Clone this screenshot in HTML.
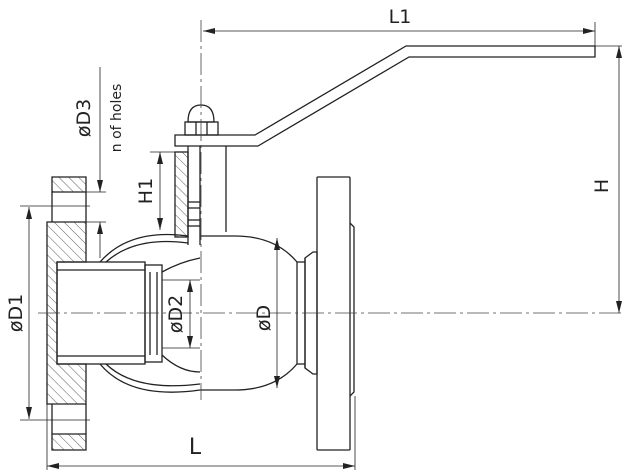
<!DOCTYPE html>
<html><head><meta charset="utf-8"><style>
html,body{margin:0;padding:0;background:#fff;width:626px;height:472px;overflow:hidden}
text{font-family:"DejaVu Sans","Liberation Sans",sans-serif;fill:#222}
</style></head><body>
<svg width="626" height="472" viewBox="0 0 626 472" xmlns="http://www.w3.org/2000/svg">
<defs>
<pattern id="h" width="7" height="7" patternUnits="userSpaceOnUse" patternTransform="rotate(-45)">
<line x1="0" y1="0" x2="0" y2="7" stroke="#333" stroke-width="0.8"/></pattern>
<marker id="a" markerWidth="12" markerHeight="6" refX="12" refY="3" orient="auto-start-reverse" markerUnits="userSpaceOnUse">
<path d="M0,0 L12,3 L0,6 z" fill="#222"/></marker>
</defs>
<g stroke="#222" stroke-width="1.3" fill="none">
<path d="M175,135 L255,135 L406,46 L595,46 L595,57 L409,57 L258,146 L175,146 Z" fill="#fff"/>
<path d="M188,122 Q188,105 201,105 Q214,105 214,122 Z"/>
<rect x="185" y="122" width="33" height="13"/>
<line x1="196" y1="122" x2="196" y2="135"/><line x1="207" y1="122" x2="207" y2="135"/>
<rect x="175" y="152" width="13" height="85" fill="url(#h)"/>
<line x1="188" y1="146" x2="188" y2="245"/>
<line x1="200" y1="146" x2="200" y2="245"/>
<line x1="226" y1="146" x2="226" y2="232"/>
<line x1="188" y1="202" x2="200" y2="202"/><line x1="188" y1="208" x2="200" y2="208"/>
<line x1="188" y1="220" x2="200" y2="220"/><line x1="188" y1="226" x2="200" y2="226"/>
<path d="M52,177 L86,177 L86,192 L52,192 Z" fill="url(#h)"/>
<path d="M47,222 L86,222 L86,262 L57,262 L57,364 L86,364 L86,404 L47,404 Z" fill="url(#h)"/>
<path d="M52,434 L86,434 L86,450 L52,450 Z" fill="url(#h)"/>
<line x1="52" y1="192" x2="52" y2="222"/><line x1="86" y1="192" x2="86" y2="222"/>
<line x1="52" y1="404" x2="52" y2="434"/><line x1="86" y1="404" x2="86" y2="434"/>
<rect x="57" y="262" width="88" height="102"/>
<line x1="57" y1="270" x2="145" y2="270"/><line x1="57" y1="356" x2="145" y2="356"/>
<rect x="145" y="265" width="17" height="97"/>
<line x1="150" y1="272" x2="150" y2="355"/><line x1="157" y1="272" x2="157" y2="355"/>
<path d="M100,262 Q130,228 188,236"/>
<path d="M106,262 Q135,236 188,243"/>
<path d="M100,364 Q130,400 200,390"/>
<path d="M106,364 Q135,392 200,384"/>
<path d="M162,272 Q180,262 200,258"/><path d="M162,355 Q180,372 200,372"/>
<path d="M200,236 L235,236 Q275,236 297,262 L297,364 Q275,390 235,390 L200,390"/>
<line x1="297" y1="262" x2="305" y2="262"/><line x1="297" y1="364" x2="305" y2="364"/>
<path d="M305,258 L313,252 L317,252 L317,374 L313,374 L305,368 Z"/>
<line x1="305" y1="258" x2="305" y2="368"/>
<rect x="317" y="177" width="33" height="273" rx="1"/>
<path d="M350,223 L354,227 L354,392 L350,396"/>
</g>
<g stroke="#444" stroke-width="0.8" fill="none" stroke-dasharray="22,4,3,4">
<line x1="38" y1="313" x2="622" y2="313"/>
<line x1="201" y1="20" x2="201" y2="400"/>
</g>
<g stroke="#222" stroke-width="0.8" fill="none">
<line x1="203" y1="31" x2="595" y2="31" marker-start="url(#a)" marker-end="url(#a)"/>
<line x1="595" y1="22" x2="595" y2="46"/>
<line x1="595" y1="46" x2="622" y2="46"/>
<line x1="619" y1="46" x2="619" y2="313" marker-start="url(#a)" marker-end="url(#a)"/>
<line x1="47" y1="466" x2="355" y2="466" marker-start="url(#a)" marker-end="url(#a)"/>
<line x1="47" y1="404" x2="47" y2="470"/><line x1="355" y1="396" x2="355" y2="470"/>
<line x1="29" y1="207" x2="29" y2="419" marker-start="url(#a)" marker-end="url(#a)"/>
<line x1="20" y1="206" x2="90" y2="206"/><line x1="20" y1="420" x2="90" y2="420"/>
<line x1="100" y1="67" x2="100" y2="192" marker-end="url(#a)"/>
<line x1="100" y1="222" x2="100" y2="258" marker-start="url(#a)"/>
<line x1="86" y1="192" x2="106" y2="192"/><line x1="86" y1="222" x2="106" y2="222"/>
<line x1="160" y1="152" x2="160" y2="230" marker-start="url(#a)" marker-end="url(#a)"/>
<line x1="150" y1="152" x2="175" y2="152"/>
<line x1="190" y1="280" x2="190" y2="348" marker-start="url(#a)" marker-end="url(#a)"/>
<line x1="162" y1="280" x2="200" y2="280"/><line x1="162" y1="348" x2="200" y2="348"/>
<line x1="277" y1="238" x2="277" y2="388" marker-start="url(#a)" marker-end="url(#a)"/>
</g>
<text x="400" y="23" font-size="19" text-anchor="middle">L1</text>
<text x="195" y="454" font-size="22" text-anchor="middle">L</text>
<text transform="translate(608,186) rotate(-90)" font-size="19" text-anchor="middle">H</text>
<text transform="translate(22,313) rotate(-90)" font-size="19" text-anchor="middle">øD1</text>
<text transform="translate(90,118) rotate(-90)" font-size="19" text-anchor="middle">øD3</text>
<text transform="translate(121,118) rotate(-90)" font-size="14" text-anchor="middle">n of holes</text>
<text transform="translate(152,191) rotate(-90)" font-size="19" text-anchor="middle">H1</text>
<text transform="translate(182,314) rotate(-90)" font-size="19" text-anchor="middle">øD2</text>
<text transform="translate(270,318) rotate(-90)" font-size="19" text-anchor="middle">øD</text>
</svg>
</body></html>
